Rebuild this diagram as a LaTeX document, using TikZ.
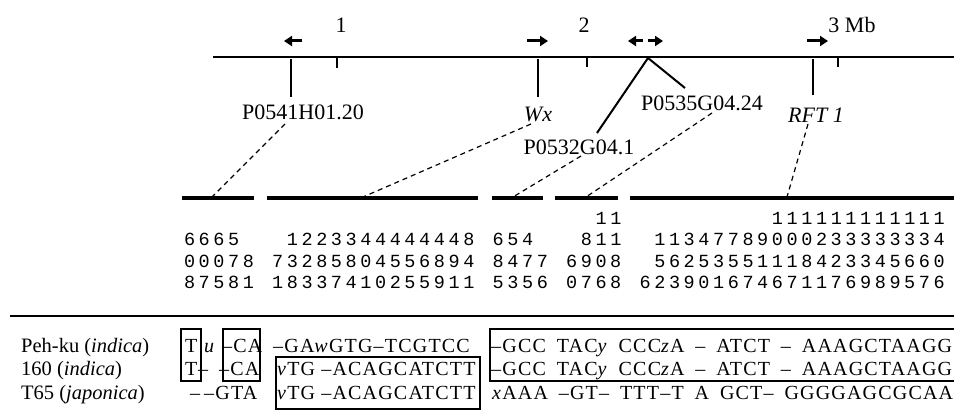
\documentclass[tikz,border=0pt]{standalone}
\usepackage{fontspec}
\setmainfont{Liberation Serif}
\newfontfamily\monofont{Liberation Mono}
\newfontfamily\seqfont[LetterSpace=6]{Liberation Serif}
\usetikzlibrary{arrows.meta}

% one digit per fixed-width cell; ~ leaves a cell empty
\makeatletter
\newlength\colpitch
\setlength\colpitch{14.7pt}
\newcommand\digitrow[1]{\@tfor\dg:=#1\do{\makebox[\colpitch]{\dg}}}
\makeatother

\begin{document}
\begin{tikzpicture}[x=1pt, y=-1pt,
  maplabel/.style={font=\fontsize{22}{26}\selectfont, inner sep=0pt},
  mapline/.style={line width=2.4pt},
  markline/.style={line width=2pt},
  tickline/.style={line width=2pt},
  dir/.style={line width=3pt, -{Triangle[length=8pt,width=10pt]}},
  guide/.style={line width=1.2pt, dash pattern=on 5pt off 4pt},
  segbar/.style={line width=4pt},
  numrow/.style={font=\monofont\fontsize{18.5}{20}\selectfont, inner sep=0pt, anchor=base west},
  seq/.style={font=\seqfont\fontsize{20}{22}\selectfont, inner sep=0pt, anchor=base west},
  rowname/.style={font=\fontsize{20.5}{22}\selectfont, inner sep=0pt, anchor=base west},
  seqbox/.style={line width=1.2pt}]

\useasboundingbox (0,0) rectangle (954,417);

% ---------- physical map (Mb scale) ----------
\coordinate (mapL) at (213,57);
\coordinate (mapR) at (954,57);
\draw[mapline] (mapL) -- (mapR);

\node[maplabel] (mb1) at (341,25) {1};
\node[maplabel] (mb2) at (584,25) {2};
\node[maplabel] (mb3) at (852,25) {3 Mb};

\coordinate (t1) at (337,57);  \coordinate (t1b) at (337,68);
\coordinate (t2) at (587,57);  \coordinate (t2b) at (587,67);
\coordinate (t3) at (838,57);  \coordinate (t3b) at (838,67);
\draw[tickline] (t1) -- (t1b);
\draw[tickline] (t2) -- (t2b);
\draw[tickline] (t3) -- (t3b);

% transcription directions
\coordinate (a1s) at (302,41); \coordinate (a1e) at (284,41);
\coordinate (a2s) at (527,41); \coordinate (a2e) at (548,41);
\coordinate (a3s) at (643,41); \coordinate (a3e) at (628,41);
\coordinate (a4s) at (648,41); \coordinate (a4e) at (663,41);
\coordinate (a5s) at (807,41); \coordinate (a5e) at (828,41);
\draw[dir] (a1s) -- (a1e);
\draw[dir] (a2s) -- (a2e);
\draw[dir] (a3s) -- (a3e);
\draw[dir] (a4s) -- (a4e);
\draw[dir] (a5s) -- (a5e);

% markers
\node[maplabel] (p541) at (303,112) {P0541H01.20};
\node[maplabel] (wx)   at (538,114) {\itshape Wx};
\node[maplabel] (p535) at (702,103) {P0535G04.24};
\node[maplabel] (p532) at (579,147) {P0532G04.1};
\node[maplabel] (rft)  at (816,115) {\itshape RFT 1};

\coordinate (m1) at (291,59);  \coordinate (m1b) at (291,97);
\coordinate (m2) at (538,59);  \coordinate (m2b) at (538,97);
\coordinate (m3) at (648,58);  \coordinate (m3a) at (597,133); \coordinate (m3b) at (685,88);
\coordinate (m4) at (813,59);  \coordinate (m4b) at (813,95);
\draw[markline] (m1) -- (m1b);
\draw[markline] (m2) -- (m2b);
\draw[markline] (m3a) -- (m3) -- (m3b);
\draw[markline] (m4) -- (m4b);

% ---------- sequenced stretches ----------
\coordinate (sA1) at (182,198); \coordinate (sA2) at (254,198);
\coordinate (sB1) at (267,198); \coordinate (sB2) at (478,198);
\coordinate (sC1) at (492,198); \coordinate (sC2) at (543,198);
\coordinate (sD1) at (555,198); \coordinate (sD2) at (618,198);
\coordinate (sE1) at (630,198); \coordinate (sE2) at (954,198);
\draw[segbar] (sA1) -- (sA2);
\draw[segbar] (sB1) -- (sB2);
\draw[segbar] (sC1) -- (sC2);
\draw[segbar] (sD1) -- (sD2);
\draw[segbar] (sE1) -- (sE2);

\coordinate (gA) at (212,197);
\coordinate (gB) at (363,197);
\coordinate (gC) at (513,197);
\coordinate (gD) at (586,197);
\coordinate (gE) at (787,197);
\coordinate (l1) at (285,124);
\coordinate (l2) at (531,124);
\coordinate (l3) at (581,156);
\coordinate (l4) at (712,113);
\coordinate (l5) at (808,124);
\draw[guide] (l1) -- (gA);
\draw[guide] (l2) -- (gB);
\draw[guide] (l3) -- (gC);
\draw[guide] (l4) -- (gD);
\draw[guide] (l5) -- (gE);

% positions, written top to bottom in columns
\node[numrow] (n1) at (182,225) {\digitrow{~~~~~~~~~~~~~~~~~~~~~~~~~~~~11~~~~~~~~~~111111111111}};
\node[numrow] (n2) at (182,246) {\digitrow{6665~~~1223344444448~654~~~811~~11347789000233333334}};
\node[numrow] (n3) at (182,267) {\digitrow{00078~73285804556894~8477~6908~~56253551118423345660}};
\node[numrow] (n4) at (182,288) {\digitrow{87581~18337410255911~5356~0768~623901674671176989576}};

% ---------- alignment ----------
\coordinate (rule1) at (10,316);
\coordinate (rule2) at (954,316);
\draw[line width=1.8pt] (rule1) -- (rule2);

\node[rowname] (r1) at (21,352) {Peh-ku (\textit{indica})};
\node[rowname] (r2) at (21,375) {160 (\textit{indica})};
\node[rowname] (r3) at (21,399) {T65 (\textit{japonica})};

% Peh-ku
\node[seq] (a1) at (185,352) {T};
\node[seq] (a2) at (204,352) {\textit{u}};
\node[seq] (a3) at (222,352) {–CA};
\node[seq] (a4) at (273,352) {\makebox[204pt][s]{–GA\textit{w}GTG–TCGTCC}};
\node[seq] (a5) at (491,352) {\makebox[461pt]{–GCC\hfill TAC\textit{y}\hfill CCC\textit{z}A\hfill –\hfill ATCT\hfill –\hfill AAAGCTAAGG}};
% 160
\node[seq] (b1) at (185,375) {T};
\node[seq] (b2) at (198,375) {–};
\node[seq] (b3) at (219,375) {–CA};
\node[seq] (b4) at (277,375) {\textit{v}TG –ACAGCATCTT};
\node[seq] (b5) at (491,375) {\makebox[461pt]{–GCC\hfill TAC\textit{y}\hfill CCC\textit{z}A\hfill –\hfill ATCT\hfill –\hfill AAAGCTAAGG}};
% T65
\node[seq] (c1) at (190,399) {–};
\node[seq] (c2) at (204,399) {–GTA};
\node[seq] (c3) at (277,399) {\textit{v}TG –ACAGCATCTT};
\node[seq] (c4) at (492,399) {\makebox[461pt]{\textit{x}AAA\hfill –GT–\hfill TTT–T\hfill A\hfill GCT–\hfill GGGGAGCGCAA}};

% conserved blocks
\draw[seqbox] (181,329) rectangle (201,381);
\draw[seqbox] (223,329) rectangle (260,381);
\draw[seqbox] (276,357) rectangle (480,409);
\draw[seqbox] (490,329) rectangle (960,381);
\end{tikzpicture}
\end{document}
